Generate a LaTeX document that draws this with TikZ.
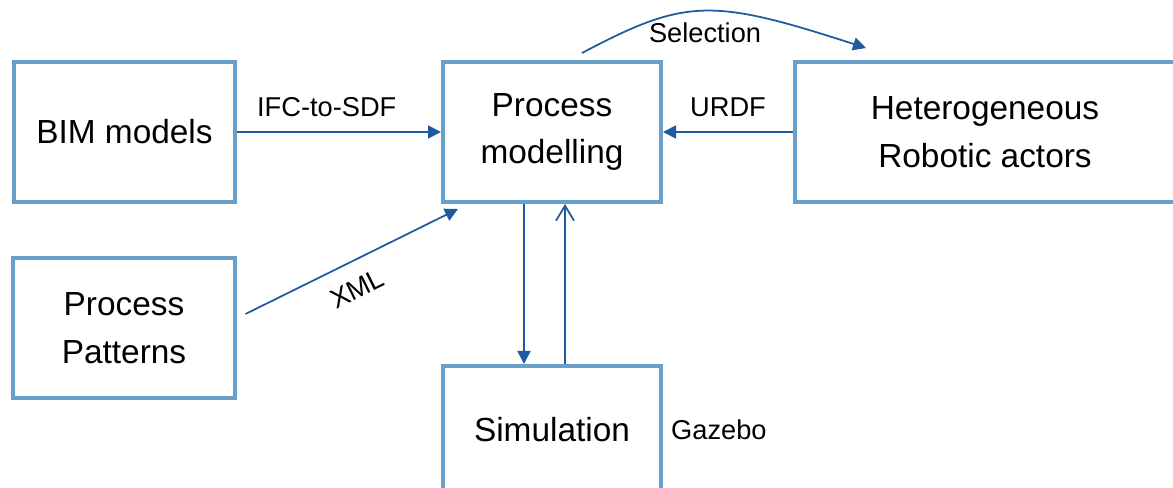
\documentclass[tikz,border=0pt]{standalone}
\usepackage{fontspec}
\setmainfont{Liberation Sans}
\usetikzlibrary{arrows.meta, positioning}
\definecolor{boxblue}{RGB}{104,160,202}
\definecolor{arrowblue}{RGB}{30,90,160}

\begin{document}
\begin{tikzpicture}[>={Triangle[length=0.26cm, width=0.26cm]},
    box/.style={draw=boxblue, line width=0.08cm, fill=white, align=center,
      minimum height=2.8cm, font=\fontsize{19}{27}\selectfont},
    flow/.style={->, draw=arrowblue, line width=0.035cm},
    lbl/.style={font=\fontsize{15.5}{18}\selectfont, text=black}]
    \clip (0,0) rectangle (23.46,9.76);

    % Boxes
    \node[box, minimum width=4.42cm] (bim) at (2.49,7.12) {BIM models};
    \node[box, minimum width=4.42cm] (pat) at (2.48,3.20) {Process\\Patterns};
    \node[box, minimum width=4.36cm] (proc) at (11.04,7.12) {Process\\modelling};
    \node[box, minimum width=7.6cm] (robots) at (19.70,7.12) {Heterogeneous\\Robotic actors};
    \node[box, minimum width=4.36cm, minimum height=2.56cm] (sim) at (11.04,1.16) {Simulation};
    \node[lbl, right=0.04cm of sim] (gazebo) {Gazebo};

    % Inputs
    \draw[flow] (bim) -- node[lbl, above=5pt, pos=0.44] {IFC-to-SDF} (proc);
    \draw[flow] (robots) -- node[lbl, above=5pt] {URDF} (proc);
    \draw[flow] ([shift={(0.18,0.28)}]pat.east)
        -- node[lbl, sloped, below=6pt, pos=0.47] {XML} ([shift={(0.34,-0.1)}]proc.south west);

    % Selection
    \draw[flow] ([shift={(0.6,0.14)}]proc.north)
        .. controls +(2.08,1.10) and +(-3.09,1.00) .. ([shift={(1.46,0.24)}]robots.north west)
        node[lbl, pos=0.5, below=3pt] {Selection};

    % Simulation loop
    \draw[flow] ([xshift=-0.56cm]proc.south) -- ([xshift=-0.56cm]sim.north);
    \draw[draw=arrowblue, line width=0.035cm, -{Straight Barb[length=0.3cm, width=0.36cm]}]
        ([xshift=0.26cm]sim.north) -- ([xshift=0.26cm]proc.south);
\end{tikzpicture}
\end{document}
